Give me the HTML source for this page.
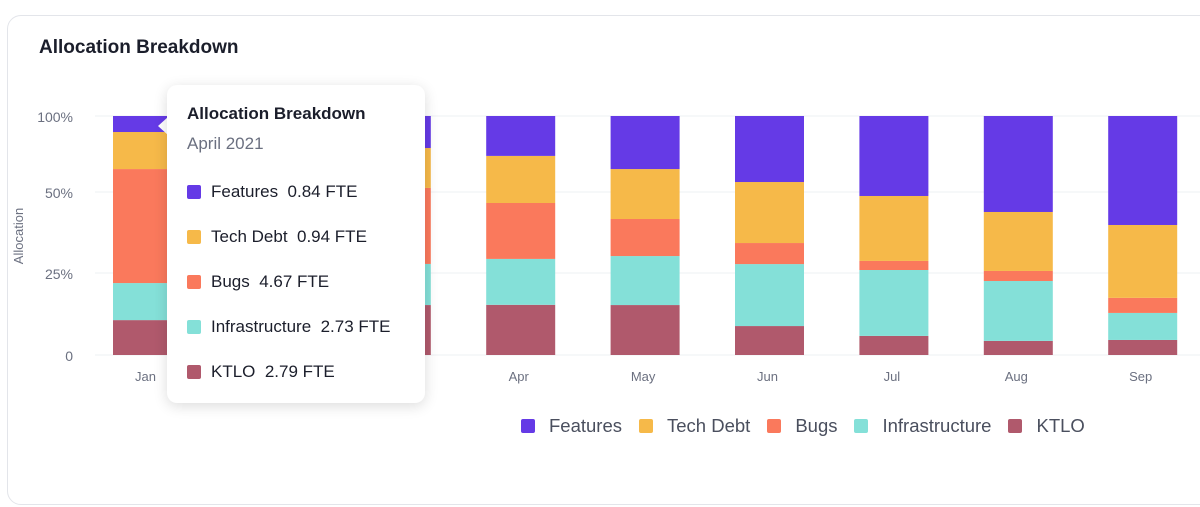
<!DOCTYPE html>
<html><head><meta charset="utf-8">
<style>
body{margin:0;width:1200px;height:507px;background:#fff;font-family:"Liberation Sans",sans-serif;overflow:hidden;position:relative}
.card{position:absolute;left:7px;top:15px;width:1210px;height:490px;border:1px solid #e3e5ea;border-radius:14px;box-sizing:border-box}
.title{position:absolute;left:39px;top:37px;font-size:19px;font-weight:bold;color:#1b1e2b}
.tip{position:absolute;left:167px;top:85px;width:258px;height:318px;background:#fff;border-radius:10px;box-shadow:0 3px 14px rgba(0,0,0,.14)}
.tip .h{position:absolute;left:20px;top:19px;font-size:17px;font-weight:bold;color:#1b1e2b}
.tip .d{position:absolute;left:20px;top:49px;font-size:17px;color:#6b7080}
.tip .row{position:absolute;left:20px;font-size:17px;color:#1b1e2b;display:flex;align-items:center}
.sw{display:inline-block;width:14px;height:14px;border-radius:2px;margin-right:10px}
.arrow{position:absolute;left:158px;top:117px;width:0;height:0;border-top:9px solid transparent;border-bottom:9px solid transparent;border-right:10px solid #fff}
.legend{position:absolute;left:521px;top:415px;display:flex;font-size:18.5px;color:#4a4f5e}
.legend .sw{margin-right:14px}
.legend span.e{display:flex;align-items:center;margin-right:17px}
</style></head><body>
<div class="card"></div>
<div class="title">Allocation Breakdown</div>
<svg id="chart" width="1200" height="507" style="position:absolute;left:0;top:0"></svg>
<div class="arrow"></div>
<div class="tip">
<div class="h">Allocation Breakdown</div>
<div class="d">April 2021</div>
<div class="row" style="top:97px"><span class="sw" style="background:#653ae6"></span>Features&nbsp;&nbsp;0.84 FTE</div>
<div class="row" style="top:142px"><span class="sw" style="background:#f6b949"></span>Tech Debt&nbsp;&nbsp;0.94 FTE</div>
<div class="row" style="top:187px"><span class="sw" style="background:#fa795c"></span>Bugs&nbsp;&nbsp;4.67 FTE</div>
<div class="row" style="top:232px"><span class="sw" style="background:#84e0d8"></span>Infrastructure&nbsp;&nbsp;2.73 FTE</div>
<div class="row" style="top:277px"><span class="sw" style="background:#b0596c"></span>KTLO&nbsp;&nbsp;2.79 FTE</div>
</div>
<div class="legend">
<span class="e"><span class="sw" style="background:#653ae6"></span>Features</span>
<span class="e"><span class="sw" style="background:#f6b949"></span>Tech Debt</span>
<span class="e"><span class="sw" style="background:#fa795c"></span>Bugs</span>
<span class="e"><span class="sw" style="background:#84e0d8"></span>Infrastructure</span>
<span class="e"><span class="sw" style="background:#b0596c"></span>KTLO</span>
</div>
<script>
const months=["Jan","Feb","Mar","Apr","May","Jun","Jul","Aug","Sep"];
const features=[6.7,12,13.4,16.7,22.2,27.6,33.5,40.2,45.6];
const techDebt=[15.5,16,16.7,19.7,20.9,25.5,27.2,24.7,30.5];
const bugs=[47.7,33,31.8,23.4,15.5,8.8,3.8,4.2,6.3];
const infra=[15.5,17,17.2,19.2,20.5,25.9,27.6,25.1,11.3];
const ktlo=[14.6,22,20.9,21,20.9,12.1,8,5.9,6.3];
const series=[ktlo,infra,bugs,techDebt,features];
const seriesNames=["ktlo","infrastructure","bugs","tech-debt","features"];
const colors=["#b0596c","#84e0d8","#fa795c","#f6b949","#653ae6"];
const tickLabels=["0","25%","50%","100%"];
const tickYs=[355,273,192,116];
const svg=document.getElementById('chart');
const NS='http://www.w3.org/2000/svg';
const plotTop=116,plotBottom=355;
function xPos(i){return 147.5+i*124.4;}
function yPos(frac){return plotBottom-frac*(plotBottom-plotTop);}
tickLabels.forEach((t,i)=>{
 const l=document.createElementNS(NS,'line');
 l.setAttribute('x1',95);l.setAttribute('x2',1200);l.setAttribute('y1',tickYs[i]);l.setAttribute('y2',tickYs[i]);
 l.setAttribute('stroke','#eef0f3');
 
 
 svg.appendChild(l);
 const tx=document.createElementNS(NS,'text');
 tx.setAttribute('x',73);tx.setAttribute('y',tickYs[i]+6);tx.setAttribute('text-anchor','end');
 tx.setAttribute('font-size','14');tx.setAttribute('fill','#6b7080');tx.textContent=t;
 
 
 svg.appendChild(tx);
});
const yt=document.createElementNS(NS,'text');
yt.setAttribute('transform','translate(23,236) rotate(-90)');yt.setAttribute('text-anchor','middle');
yt.setAttribute('font-size','13');yt.setAttribute('fill','#6b7080');yt.textContent='Allocation';


svg.appendChild(yt);
months.forEach((m,i)=>{
 let total=0;series.forEach(s=>total+=s[i]);
 let acc=0;
 series.forEach((s,k)=>{
  const y0=yPos(acc/total);acc+=s[i];const y1=yPos(acc/total);
  const r=document.createElementNS(NS,'rect');
  r.setAttribute('x',xPos(i)-34.5);r.setAttribute('width',69);
  r.setAttribute('y',y1);r.setAttribute('height',y0-y1);r.setAttribute('fill',colors[k]);
  
  
  svg.appendChild(r);
 });
 const t=document.createElementNS(NS,'text');
 t.setAttribute('x',xPos(i)-2);t.setAttribute('y',381);t.setAttribute('text-anchor','middle');
 t.setAttribute('font-size','13');t.setAttribute('fill','#6b7080');t.textContent=m;
 
 
 svg.appendChild(t);
});
</script>
</body></html>
